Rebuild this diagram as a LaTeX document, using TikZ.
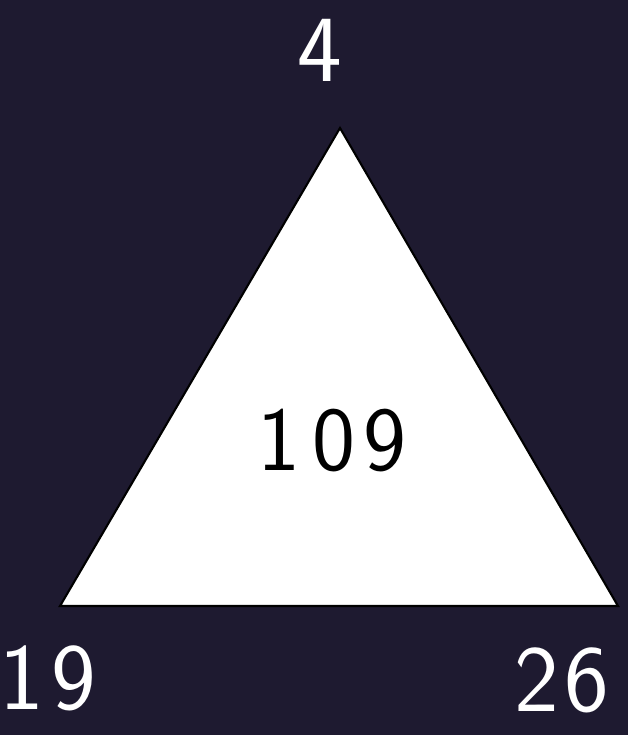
\documentclass[tikz,border=0pt]{standalone}
\usetikzlibrary{positioning}
\definecolor{nightink}{HTML}{1E1A30}
\definecolor{chalk}{HTML}{FFFFFF}
\tikzset{
  corner/.style={text=chalk, font=\fontsize{54}{54}\selectfont\sffamily, inner sep=0pt},
  inside/.style={text=black, font=\fontsize{52}{52}\selectfont\sffamily, inner sep=0pt},
  face/.style={fill=chalk, draw=black, line width=1.2pt, line join=miter},
}

\begin{document}
\begin{tikzpicture}[x=0.02cm, y=-0.02cm]
  % canvas (fixes the page size)
  \fill[nightink] (0,0) rectangle (628,735);
  \useasboundingbox (0,0) rectangle (628,735);

  % corners of the triangle
  \coordinate (apex) at (340,128);
  \coordinate (left) at (60,606);
  \coordinate (right) at (618,606);

  \draw[face] (apex) -- (left) -- (right) -- cycle;

  % labels
  \node[inside] (sum) at (332,441) {1\hspace{7pt}0\hspace{5pt}9};
  \node[corner] (top) at (320,50) {4};
  \node[corner] (bl) at (48,678) {1\hspace{4pt}9};
  \node[corner] (br) at (562,680) {2\hspace{3pt}6};
\end{tikzpicture}
\end{document}
